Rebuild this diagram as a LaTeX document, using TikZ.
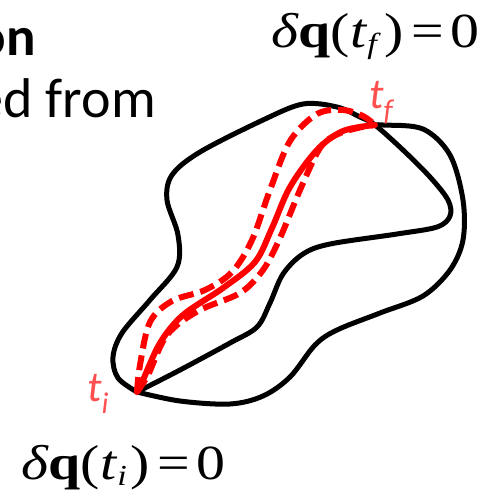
\documentclass[tikz,border=0pt]{standalone}
\usepackage{fontspec}
\setmainfont{Carlito}
\newfontfamily\tms{Liberation Serif}
\definecolor{lblred}{HTML}{FF5050}
\newcommand{\eqfmt}[1]{\scalebox{1.18}[1]{\textit{δ}\textbf{q}(\textit{t}\raisebox{-6pt}{\fontsize{29}{29}\selectfont\textit{#1}}\hspace{3pt})\hspace{7pt}=\hspace{5pt}0}}
\begin{document}
\begin{tikzpicture}[x=1pt,y=-1pt,
  blob/.style={line width=5pt, black, line join=round, line cap=round},
  pathsolid/.style={line width=6pt, red, line cap=round},
  pathdash/.style={line width=6pt, red, dash pattern=on 15pt off 7pt},
  lbl/.style={text=lblred, inner sep=0pt, font=\fontsize{43}{43}\selectfont\itshape},
  eqn/.style={inner sep=0pt, font=\tms\fontsize{49}{49}\selectfont}]
\useasboundingbox (0,0) rectangle (487,491);
\coordinate (ti) at (137,392);
\coordinate (tf) at (375,125);
% black outline, upper-left part and inner lobe
\draw[blob] plot[smooth, tension=0.55] coordinates {
 (ti) (118,378) (113,357) (122,333) (150,300) (177,267) (178,235) (167,200)
 (172,175) (200,152) (263,120) (303,104) (337,107) (360,117) (tf)
 (403,150) (430,177) (448,200) (450,216) (437,227) (397,234) (330,244)
 (303,254) (283,274) (270,303) (257,327) (230,343) (180,370) (ti)};
% black outline, outer right part
\draw[blob] plot[smooth, tension=0.55] coordinates {
 (tf) (383,125) (423,129) (450,155) (463,200) (463,240) (450,270) (423,296)
 (380,313) (337,330) (315,345) (290,377) (263,396) (230,404) (180,401) (ti)};
% red paths
\draw[pathsolid] plot[smooth, tension=0.55] coordinates {
 (ti) (143,380) (160,343) (183,315) (223,288) (255,262) (272,228) (290,187)
 (317,150) (343,131) (tf)};
\draw[pathdash] plot[smooth, tension=0.55] coordinates {
 (ti) (140,365) (150,322) (172,301) (205,290) (232,272) (252,240) (270,190)
 (290,141) (317,114) (343,110) (363,116) (tf)};
\draw[pathdash] plot[smooth, tension=0.55] coordinates {
 (ti) (148,375) (167,335) (198,311) (240,293) (263,270) (280,238) (300,190)
 (320,148) (338,134) (362,127) (tf)};
% labels
\node[lbl, anchor=base west] (lf) at (369,108) {t\raisebox{-0.3em}{\fontsize{30}{30}\selectfont f}};
\node[lbl, anchor=base west] (li) at (87,401) {t\raisebox{-0.3em}{\fontsize{30}{30}\selectfont i}};
\node[eqn, anchor=base west] (ef) at (271,47) {\eqfmt{f}};
\node[eqn, anchor=base west] (ei) at (21,479) {\eqfmt{i}};
% partial slide text
\node[inner sep=0pt, anchor=base east, font=\fontsize{55}{55}\selectfont\bfseries] (t1) at (36,55) {on};
\node[inner sep=0pt, anchor=base east, font=\fontsize{56}{56}\selectfont] (t2) at (156,117) {ed from};
\end{tikzpicture}
\end{document}
